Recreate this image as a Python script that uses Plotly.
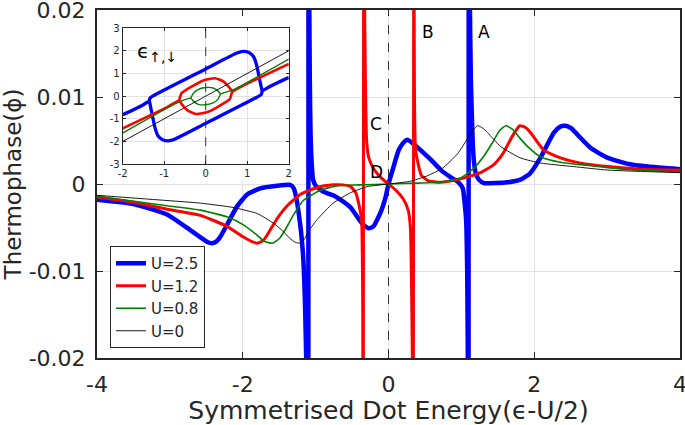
import plotly.graph_objects as go

# ---------------- main panel data (x, thermophase) ----------------
U25_points = [
    (-4.00, -0.0018), (-3.50, -0.0023), (-3.04, -0.0035), (-2.72, -0.0053), (-2.55, -0.0063),
    (-2.48, -0.0067), (-2.42, -0.0068), (-2.36, -0.0066), (-2.31, -0.0061), (-2.21, -0.0046),
    (-2.08, -0.0026), (-1.94, -0.0012), (-1.76, -0.0005), (-1.53, -0.0002), (-1.35, -0.0001),
    (-1.30, -0.0005), (-1.26, -0.0018), (-1.23, -0.0035), (-1.20, -0.0055), (-1.17, -0.0085),
    (-1.145, -0.014), (-1.125, -0.022), (-1.103, -0.04), (-1.097, 0.04), (-1.088, 0.022),
    (-1.08, 0.012), (-1.07, 0.006), (-1.055, 0.0025), (-1.035, 0.0005), (-1.00, -0.0002),
    (-0.89, -0.0009), (-0.76, -0.0013), (-0.66, -0.0018), (-0.52, -0.0027), (-0.385, -0.0043),
    (-0.33, -0.0048), (-0.27, -0.0051), (-0.21, -0.0049), (-0.11, -0.0033), (-0.04, -0.0015),
    (0.00, 0.0), (0.07, 0.0020), (0.14, 0.0039), (0.21, 0.0048), (0.26, 0.0051),
    (0.33, 0.0047), (0.44, 0.0039), (0.58, 0.0028), (0.72, 0.0016), (0.85, 0.0008),
    (0.96, 0.0002), (1.02, -0.0005), (1.04, -0.0018), (1.065, -0.0041), (1.08, -0.010),
    (1.09, -0.022), (1.097, -0.04), (1.103, 0.04), (1.115, 0.022), (1.13, 0.012),
    (1.155, 0.0050), (1.17, 0.0028), (1.195, 0.0013), (1.24, 0.0005), (1.31, 0.0001),
    (1.63, 0.0002), (1.81, 0.0005), (1.94, 0.0012), (2.09, 0.0031), (2.27, 0.0059),
    (2.36, 0.0066), (2.43, 0.0067), (2.51, 0.0064), (2.60, 0.0056), (2.78, 0.0041),
    (3.01, 0.0030), (3.29, 0.0023), (3.56, 0.0020), (4.00, 0.0017),
]

U12_points = [
    (-4.00, -0.0015), (-3.50, -0.0021), (-3.04, -0.0029), (-2.58, -0.0036), (-2.21, -0.0049),
    (-1.99, -0.0061), (-1.88, -0.0066), (-1.80, -0.0068), (-1.72, -0.0065), (-1.66, -0.0058),
    (-1.53, -0.0040), (-1.39, -0.0025), (-1.21, -0.0012), (-0.98, -0.0004), (-0.76, -0.0001),
    (-0.62, -0.0001), (-0.52, -0.0003), (-0.45, -0.0010), (-0.41, -0.0022), (-0.37, -0.0041),
    (-0.355, -0.012), (-0.347, -0.04), (-0.339, 0.04), (-0.325, 0.018), (-0.30, 0.0050),
    (-0.27, 0.0030), (-0.20, 0.0017), (-0.10, 0.0007), (0.00, 0.0), (0.10, -0.0007),
    (0.20, -0.0017), (0.27, -0.0030), (0.30, -0.0050), (0.325, -0.018), (0.339, -0.04),
    (0.347, 0.04), (0.355, 0.012), (0.37, 0.0041), (0.41, 0.0022), (0.45, 0.0010),
    (0.54, 0.0004), (0.715, 0.0002), (0.99, 0.0006), (1.26, 0.0013), (1.44, 0.0022),
    (1.57, 0.0035), (1.70, 0.0055), (1.80, 0.0067), (1.88, 0.0065), (1.95, 0.0059),
    (2.13, 0.0039), (2.36, 0.0030), (2.64, 0.0024), (3.01, 0.0020), (3.46, 0.0017),
    (4.00, 0.0016),
]

U08_points = [
    (-4.00, -0.0014), (-3.04, -0.0025), (-2.58, -0.0030), (-2.21, -0.0038), (-1.99, -0.0047),
    (-1.80, -0.0059), (-1.70, -0.0066), (-1.59, -0.0068), (-1.49, -0.0062), (-1.40, -0.0050),
    (-1.30, -0.0035), (-1.17, -0.0019), (-0.93, -0.0007), (-0.70, -0.0002), (-0.40, -0.0001),
    (0.00, 0.0), (0.40, 0.0001), (0.72, 0.0002), (0.99, 0.0007), (1.17, 0.0018),
    (1.30, 0.0031), (1.43, 0.0048), (1.52, 0.0061), (1.61, 0.0067), (1.70, 0.0063),
    (1.80, 0.0053), (1.91, 0.0043), (2.09, 0.0031), (2.36, 0.0025), (2.78, 0.0021),
    (3.23, 0.0017), (4.00, 0.0014),
]

U0_points = [
    (-4.00, -0.0013), (-3.04, -0.0019), (-2.58, -0.0022), (-2.13, -0.0027), (-1.80, -0.0034),
    (-1.58, -0.0045), (-1.45, -0.0054), (-1.36, -0.0062), (-1.28, -0.0067), (-1.21, -0.0068),
    (-1.15, -0.0063), (-1.11, -0.0056), (-0.98, -0.0041), (-0.76, -0.0022), (-0.52, -0.0010),
    (-0.29, -0.0003), (0.00, 0.0), (0.29, 0.0003), (0.52, 0.0009), (0.74, 0.0018),
    (0.95, 0.0035), (1.09, 0.0053), (1.16, 0.0062), (1.22, 0.0067), (1.28, 0.0065),
    (1.36, 0.0059), (1.54, 0.0043), (1.81, 0.0030), (2.09, 0.0024), (2.54, 0.0020),
    (3.01, 0.0016), (4.00, 0.0013),
]

# ---------------- inset data (eps, eps_up/down) ; None = pen lift ----------------
inset_U25 = [
    (-2.0, -0.82), (-1.74, -0.60), (-1.50, -0.38), (-1.36, -0.22), (-1.33, -0.45),
    (-1.28, -0.90), (-1.22, -1.40), (-1.15, -1.75), (-1.04, -1.92), (-0.90, -1.97),
    (-0.75, -1.90), (0.0, -1.20), (1.26, -0.02), (1.34, 0.08), (1.36, 0.22),
    (1.50, 0.38), (1.74, 0.60), (2.0, 0.82), None,
    (-1.36, -0.22), (-1.34, -0.08), (-1.26, 0.02), (0.0, 1.20), (0.75, 1.90),
    (0.90, 1.97), (1.04, 1.92), (1.15, 1.75), (1.22, 1.40), (1.28, 0.90),
    (1.33, 0.45), (1.36, 0.22),
]
inset_U12 = [
    (-2.0, -1.42), (-1.34, -0.85), (-0.94, -0.50), (-0.64, -0.19), (-0.58, -0.35),
    (-0.42, -0.65), (-0.22, -0.79), (0.06, -0.69), (0.58, -0.13), (0.64, 0.19),
    (0.94, 0.50), (1.34, 0.85), (2.0, 1.42), None,
    (-0.64, -0.19), (-0.58, 0.13), (-0.06, 0.69), (0.22, 0.79), (0.42, 0.65),
    (0.58, 0.35), (0.64, 0.19),
]
inset_U08 = [
    (-2.0, -1.63), (-0.70, -0.31), (-0.36, -0.09), (-0.30, -0.22), (-0.18, -0.36),
    (0.0, -0.38), (0.20, -0.28), (0.30, -0.12), (0.36, 0.09), (0.70, 0.31),
    (2.0, 1.63), None,
    (-0.36, -0.09), (-0.30, 0.12), (-0.20, 0.28), (0.0, 0.38), (0.18, 0.36),
    (0.30, 0.22), (0.36, 0.09),
]
inset_U0 = [(-2.0, -2.0), (2.0, 2.0)]

series_names = ["U=2.5", "U=1.2", "U=0.8", "U=0"]
main_x_ticks = [-4, -2, 0, 2, 4]
main_x_ticktext = ["-4", "-2", "0", "2", "4"]
main_y_ticks = [-0.02, -0.01, 0, 0.01, 0.02]
main_y_ticktext = ["-0.02", "-0.01", "0", "0.01", "0.02"]
inset_x_ticks = [-2, -1, 0, 1, 2]
inset_x_ticktext = ["-2", "-1", "0", "1", "2"]
inset_y_ticks = [-3, -2, -1, 0, 1, 2, 3]
inset_y_ticktext = ["-3", "-2", "-1", "0", "1", "2", "3"]
point_labels = [("A", 1.31, 0.0175), ("B", 0.54, 0.0175), ("C", -0.17, 0.0069), ("D", -0.17, 0.0014)]


def split(pts):
    xs = [p[0] if p is not None else None for p in pts]
    ys = [p[1] if p is not None else None for p in pts]
    return xs, ys


colors = ["#0000ff", "#ff0000", "#008000", "#000000"]
main_widths = [4.5, 3.0, 1.6, 0.9]
inset_widths = [3.3, 2.6, 1.4, 0.9]

fig = go.Figure()
for pts, name, c, w in zip([U25_points, U12_points, U08_points, U0_points], series_names, colors, main_widths):
    xs, ys = split(pts)
    fig.add_trace(go.Scatter(x=xs, y=ys, mode="lines", name=name,
                             line=dict(color=c, width=w, shape="spline", smoothing=0.5),
                             xaxis="x", yaxis="y"))

for pts, c, w in zip([inset_U25, inset_U12, inset_U08, inset_U0], colors, inset_widths):
    xs, ys = split(pts)
    fig.add_trace(go.Scatter(x=xs, y=ys, mode="lines", showlegend=False,
                             line=dict(color=c, width=w, shape="spline", smoothing=0.5),
                             xaxis="x2", yaxis="y2"))

axcol = "#262626"
grid = "#e2e2e2"
eps = 1e-7
fig.update_layout(
    width=685, height=425,
    margin=dict(l=97, r=5, t=10, b=67),
    plot_bgcolor="white", paper_bgcolor="white",
    font=dict(family="DejaVu Sans", color=axcol),
    xaxis=dict(range=[-4 - 1e-6, 4 + 1e-6], tickvals=main_x_ticks, ticktext=main_x_ticktext,
               automargin=False, ticklabeloverflow="allow",
               ticks="inside", ticklen=6, tickwidth=1.2, tickcolor=axcol, mirror="ticks",
               showline=True, linewidth=2, linecolor=axcol, showgrid=True, gridcolor=grid,
               zeroline=False, tickfont=dict(size=22), ticklabelstandoff=6,
               title=dict(text="Symmetrised Dot Energy(ϵ-U/2)", font=dict(size=25), standoff=1)),
    yaxis=dict(range=[-0.02 - eps, 0.02 + eps], tickvals=main_y_ticks, ticktext=main_y_ticktext,
               automargin=False, ticklabeloverflow="allow",
               ticks="inside", ticklen=6, tickwidth=1.2, tickcolor=axcol, mirror="ticks",
               showline=True, linewidth=2, linecolor=axcol, showgrid=True, gridcolor=grid,
               zeroline=False, tickfont=dict(size=22), ticklabelstandoff=5,
               title=dict(text="Thermophase(ϕ)", font=dict(size=23), standoff=6)),
    xaxis2=dict(domain=[0.044, 0.329], anchor="y2", range=[-2, 2], tickvals=inset_x_ticks,
                automargin=False,
                ticktext=inset_x_ticktext, ticks="inside", ticklen=3, tickcolor=axcol,
                mirror="ticks", showline=True, linewidth=1, linecolor=axcol, showgrid=True,
                gridcolor=grid, zeroline=False, tickfont=dict(size=10)),
    yaxis2=dict(domain=[0.557, 0.948], anchor="x2", range=[-3, 3], tickvals=inset_y_ticks,
                automargin=False,
                ticktext=inset_y_ticktext, ticks="inside", ticklen=3, tickcolor=axcol,
                mirror="ticks", showline=True, linewidth=1, linecolor=axcol, showgrid=True,
                gridcolor=grid, zeroline=False, tickfont=dict(size=10)),
    legend=dict(x=0.0223, y=0.0287, xanchor="left", yanchor="bottom", bgcolor="white",
                bordercolor=axcol, borderwidth=1, font=dict(size=15), tracegroupgap=0),
    shapes=[
        dict(type="rect", xref="x", yref="y", x0=-3.96, x1=-1.265, y0=0.0005, y1=0.0198,
             fillcolor="white", line=dict(width=0), layer="between"),
        dict(type="line", xref="x", yref="y", x0=0, x1=0, y0=-0.02, y1=0.02,
             line=dict(color="#333333", width=1, dash="dash"), layer="between"),
        dict(type="line", xref="x2", yref="y2", x0=0, x1=0, y0=-3, y1=3,
             line=dict(color="#333333", width=1, dash="dash"), layer="between"),
    ],
)

ann = []
for t, x, y in point_labels:
    ann.append(dict(text=t, x=x, y=y, xref="x", yref="y", showarrow=False,
                    font=dict(size=17, color="#000000"), xanchor="center", yanchor="middle"))
ann.append(dict(text="ϵ<sub>↑,↓</sub>", x=-1.7, y=2.6, xref="x2", yref="y2", showarrow=False,
                font=dict(size=20, color="#000000"), xanchor="left", yanchor="top"))
fig.update_layout(annotations=ann)

fig.write_html("out.html", config={"displayModeBar": False},
               post_script="document.body.style.margin='0px';")
